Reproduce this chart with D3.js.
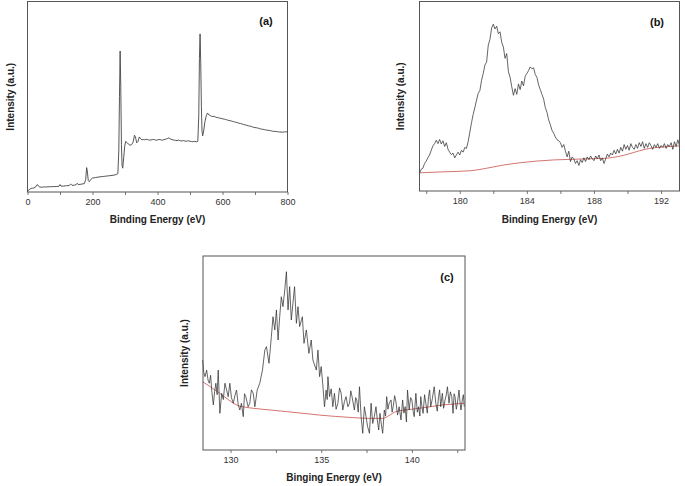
<!DOCTYPE html>
<html>
<head>
<meta charset="utf-8">
<script src="https://cdn.jsdelivr.net/npm/d3@7/dist/d3.min.js"></script>
<style>
  html, body { margin: 0; padding: 0; background: #fff; }
  svg { display: block; font-family: Arial, "Liberation Sans", sans-serif; }
</style>
</head>
<body>
<svg id="chart" width="685" height="486"></svg>
<script>
// ---------------- DATA ----------------
// Panel (a): survey spectrum [binding energy (eV), intensity (a.u.)]
const surveyA = [
  [0,0.5],[5,1.2],[10,1.8],[15,2.0],[20,2.1],[25,2.6],[28,3.6],[31,3.9],[34,3.0],[38,2.6],
  [45,2.5],[50,2.7],[55,2.6],[60,2.7],[70,2.8],[80,2.8],[90,2.9],[97,3.0],[100,3.9],[103,3.1],
  [110,3.1],[120,3.3],[128,3.4],[133,4.2],[137,3.5],[145,3.6],[150,3.9],[153,4.6],[156,3.9],[165,4.1],
  [175,4.4],[179,6.5],[182,12.8],[184,11.0],[187,6.0],[190,5.4],[195,6.6],[200,7.3],[210,7.6],[220,7.9],
  [230,8.1],[240,8.3],[250,8.5],[260,8.7],[270,9.0],[278,9.6],[281,22],[283,50],[285,74],[287,55],
  [289,25],[291,14],[293,12.5],[296,18],[299,24],[302,26.5],[306,26.0],[310,25.2],[315,24.6],[320,24.8],
  [325,26.2],[329,29.8],[332,29.0],[336,25.8],[340,26.5],[344,28.9],[348,28.0],[352,27.3],[356,27.6],[360,27.4],
  [365,27.7],[370,27.5],[375,27.2],[380,27.3],[385,27.6],[390,27.5],[395,27.2],[400,27.3],[405,27.6],[410,27.4],
  [415,27.2],[420,27.5],[425,27.7],[430,28.0],[435,28.4],[440,27.8],[445,27.5],[450,27.3],[455,27.1],[460,27.0],
  [465,27.2],[470,26.9],[475,26.8],[480,27.0],[485,26.7],[490,26.7],[495,26.9],[500,26.6],[505,26.5],[510,26.4],
  [515,26.6],[520,26.3],[524,26.6],[527,40],[529,70],[531,83],[533,68],[535,45],[537,32],[539,29.5],
  [542,32],[546,37],[550,40],[554,41.5],[558,40.5],[562,40.2],[565,39.8],[570,39.6],[575,39.7],[580,39.2],
  [585,39.1],[590,38.8],[595,38.7],[600,38.4],[605,38.3],[610,38.0],[615,37.8],[620,37.5],[625,37.4],[630,37.1],
  [635,36.9],[640,36.6],[645,36.5],[650,36.1],[655,36.0],[660,35.7],[665,35.4],[670,35.2],[675,35.0],[680,34.7],
  [685,34.6],[690,34.3],[695,34.0],[700,33.8],[705,33.7],[710,33.5],[715,33.2],[720,33.0],[725,32.9],[730,32.7],
  [735,32.5],[740,32.4],[745,32.3],[750,32.1],[755,31.9],[760,31.8],[765,31.8],[770,31.6],[775,31.5],[780,31.5],
  [785,31.4],[790,31.5],[795,31.6],[800,31.6]
];

// Panel (b): narrow scan [binding energy (eV), intensity (a.u.)]
const scanB = [
  [177.6,9.3],[177.7,11.5],[177.8,12.0],[177.9,14.5],[178.0,15.8],[178.1,17.5],[178.2,19.0],[178.3,21.5],[178.4,23.8],[178.5,25.0],
  [178.6,26.8],[178.7,25.0],[178.8,27.2],[178.9,24.8],[179.0,26.5],[179.1,23.5],[179.2,25.5],[179.3,22.0],[179.4,20.5],[179.5,19.2],
  [179.6,20.0],[179.7,17.5],[179.8,19.0],[179.9,20.5],[180.0,19.0],[180.1,21.5],[180.2,20.5],[180.3,23.0],[180.4,22.5],[180.5,26.0],
  [180.6,31.0],[180.7,36.0],[180.8,40.5],[180.9,44.0],[181.0,48.0],[181.1,51.5],[181.2,53.0],[181.3,58.5],[181.4,62.0],[181.5,66.5],
  [181.6,68.0],[181.7,77.0],[181.8,80.0],[181.9,86.0],[182.0,88.0],[182.1,85.5],[182.2,87.0],[182.3,83.0],[182.4,84.0],[182.5,78.5],
  [182.6,76.0],[182.7,70.0],[182.8,72.5],[182.9,63.0],[183.0,60.0],[183.1,55.0],[183.2,50.5],[183.3,54.0],[183.4,51.0],[183.5,56.5],
  [183.6,53.5],[183.7,58.0],[183.8,55.5],[183.9,60.5],[184.0,62.0],[184.1,63.5],[184.2,65.5],[184.3,64.5],[184.4,65.0],[184.5,61.5],
  [184.6,60.0],[184.7,56.0],[184.8,53.5],[184.9,51.0],[185.0,48.5],[185.1,44.0],[185.2,41.5],[185.3,37.5],[185.4,35.0],[185.5,32.0],
  [185.6,30.5],[185.7,28.5],[185.8,27.0],[185.9,26.5],[186.0,25.5],[186.1,23.0],[186.2,24.5],[186.3,21.0],[186.4,18.0],[186.5,21.0],
  [186.6,15.5],[186.7,18.0],[186.8,17.0],[186.9,14.5],[187.0,16.0],[187.1,13.5],[187.2,16.5],[187.3,15.0],[187.4,17.5],[187.5,15.5],
  [187.6,18.0],[187.7,16.5],[187.8,18.5],[187.9,17.0],[188.0,16.0],[188.1,18.5],[188.2,17.0],[188.3,19.0],[188.4,16.0],[188.5,17.5],
  [188.6,14.5],[188.7,17.0],[188.8,19.5],[188.9,18.0],[189.0,20.0],[189.1,19.0],[189.2,21.5],[189.3,19.5],[189.4,22.0],[189.5,20.0],
  [189.6,23.0],[189.7,21.0],[189.8,24.5],[189.9,22.0],[190.0,24.0],[190.1,21.5],[190.2,25.0],[190.3,23.0],[190.4,22.0],[190.5,24.5],
  [190.6,22.5],[190.7,25.5],[190.8,23.5],[190.9,26.0],[191.0,22.5],[191.1,25.0],[191.2,23.0],[191.3,25.5],[191.4,24.0],[191.5,22.0],
  [191.6,24.5],[191.7,23.0],[191.8,25.0],[191.9,22.5],[192.0,24.0],[192.1,23.0],[192.2,25.0],[192.3,22.5],[192.4,24.5],[192.5,23.5],
  [192.6,25.5],[192.7,22.0],[192.8,26.0],[192.9,23.5],[193.0,27.0],[193.1,24.0]
];
const baselineB = [
  [177.6,9.6],[179.0,10.1],[180.65,10.7],[181.6,12.0],[182.6,13.7],[183.6,14.9],[184.6,15.8],[185.6,16.4],
  [186.6,16.7],[187.6,17.0],[188.6,17.2],[189.2,17.8],[189.8,18.9],[190.4,20.4],[191.0,21.9],[191.6,22.8],[192.2,23.3],[193.1,23.8]
];

// Panel (c): narrow scan [binding energy (eV), intensity (a.u.)]
const scanC = [
  [128.46,46.4],[128.52,40.0],[128.59,37.8],[128.68,41.2],[128.76,36.0],[128.83,34.4],[128.90,38.5],[128.96,30.9],[129.05,23.2],[129.12,30.0],
  [129.19,34.4],[129.26,28.5],[129.32,41.2],[129.41,18.9],[129.51,29.2],[129.60,26.0],[129.69,34.4],[129.78,31.0],[129.87,27.5],[129.96,34.4],
  [130.05,27.0],[130.15,24.1],[130.24,28.0],[130.33,30.9],[130.42,23.5],[130.51,20.6],[130.60,24.1],[130.70,17.2],[130.77,29.0],[130.84,27.5],
  [130.97,22.3],[131.06,24.1],[131.15,31.0],[131.25,29.2],[131.34,22.3],[131.47,30.9],[131.61,34.4],[131.76,41.2],[131.89,51.5],[131.98,53.3],
  [132.12,44.7],[132.25,58.4],[132.34,68.7],[132.44,61.9],[132.53,72.2],[132.62,56.7],[132.71,68.7],[132.80,79.0],[132.89,73.9],[132.99,82.5],
  [133.08,91.9],[133.17,72.2],[133.26,84.2],[133.35,67.0],[133.44,75.6],[133.53,84.2],[133.63,65.3],[133.72,73.9],[133.81,63.6],[133.96,68.7],
  [134.05,55.0],[134.18,61.9],[134.32,49.8],[134.45,56.7],[134.54,46.4],[134.73,41.2],[134.82,51.5],[134.91,37.8],[135.00,43.0],[135.09,33.5],
  [135.18,22.3],[135.27,30.9],[135.33,26.0],[135.37,37.8],[135.46,27.5],[135.55,31.5],[135.64,22.3],[135.73,29.2],[135.82,21.0],[135.92,24.1],
  [136.01,32.0],[136.10,29.2],[136.19,20.6],[136.28,25.0],[136.37,27.5],[136.47,22.3],[136.56,24.1],[136.63,30.5],[136.70,27.5],[136.83,20.6],
  [136.90,27.0],[136.96,25.8],[137.04,19.5],[137.11,32.6],[137.20,17.2],[137.29,8.6],[137.38,22.3],[137.47,17.2],[137.56,12.0],[137.66,8.6],
  [137.75,24.1],[137.84,13.7],[137.93,17.2],[138.02,22.3],[138.10,15.0],[138.17,10.3],[138.24,18.9],[138.32,13.0],[138.39,8.6],[138.48,20.6],
  [138.55,17.5],[138.61,27.5],[138.68,21.0],[138.75,24.1],[138.85,25.8],[138.91,19.5],[138.97,22.3],[139.05,28.0],[139.12,24.9],[139.21,18.0],
  [139.30,22.3],[139.40,15.5],[139.49,25.8],[139.56,19.0],[139.63,22.3],[139.70,14.5],[139.76,30.9],[139.85,20.6],[139.93,27.0],[140.00,25.8],
  [140.07,20.0],[140.13,17.2],[140.22,29.2],[140.30,19.5],[140.37,22.3],[140.44,17.5],[140.49,27.5],[140.56,22.0],[140.62,18.9],[140.70,28.5],
  [140.77,24.1],[140.85,19.0],[140.92,27.5],[140.98,31.0],[141.04,22.3],[141.13,26.5],[141.23,32.6],[141.32,24.1],[141.40,20.0],[141.47,27.5],
  [141.53,31.0],[141.59,22.3],[141.68,29.2],[141.75,21.5],[141.83,25.8],[141.90,28.5],[141.96,32.6],[142.05,24.1],[142.12,30.0],[142.20,27.5],
  [142.27,18.9],[142.33,29.0],[142.38,27.5],[142.45,21.0],[142.51,24.1],[142.60,30.9],[142.66,24.0],[142.71,20.6],[142.78,25.8],[142.84,28.5],
  [142.89,22.3]
];
const baselineC = [
  [128.46,35.2],[128.9,32.5],[129.41,29.2],[129.9,25.8],[130.33,23.2],[130.8,22.1],[131.25,21.5],[132.2,20.6],[133.08,19.8],
  [134.0,18.9],[134.91,18.0],[135.8,17.3],[136.74,16.7],[137.66,16.3],[138.39,16.3],[138.75,17.8],[139.12,19.8],[139.8,20.8],
  [140.4,21.5],[141.0,22.3],[141.68,23.2],[142.3,23.7],[142.89,24.1]
];

// Tick values
const ticksA = [0, 200, 400, 600, 800];
const minorA = [100, 300, 500, 700];
const ticksB = [180, 184, 188, 192];
const minorB = [178, 182, 186, 190];
const ticksC = [130, 135, 140];
const minorC = [132.5, 137.5, 142.5];

// ---------------- DRAW ----------------
const svg = d3.select("#chart");

function drawPanel(cfg) {
  const x = d3.scaleLinear().domain(cfg.xDomain).range([cfg.left, cfg.right]);
  const y = d3.scaleLinear().domain([0, 100]).range([cfg.bottom, cfg.top]);
  const g = svg.append("g");

  // minor ticks
  g.append("g")
    .attr("transform", `translate(0,${cfg.bottom})`)
    .call(d3.axisBottom(x).tickValues(cfg.minor).tickSize(3).tickFormat(""))
    .call(a => a.select(".domain").remove())
    .call(a => a.selectAll("line").attr("stroke", "#555").attr("stroke-width", 0.8));

  // major ticks
  const ax = g.append("g")
    .attr("transform", `translate(0,${cfg.bottom})`)
    .call(d3.axisBottom(x).tickValues(cfg.ticks).tickSize(3).tickPadding(4).tickFormat(d3.format("d")));
  ax.select(".domain").remove();
  ax.selectAll("line").attr("stroke", "#555").attr("stroke-width", 0.8);
  ax.selectAll("text").attr("font-size", 9).attr("fill", "#333")
    .attr("font-family", "Arial, 'Liberation Sans', sans-serif");

  // baseline
  if (cfg.baseline) {
    g.append("path")
      .datum(cfg.baseline)
      .attr("fill", "none")
      .attr("stroke", "#c9504c")
      .attr("stroke-width", 0.8)
      .attr("d", d3.line().curve(d3.curveMonotoneX).x(d => x(d[0])).y(d => y(d[1])));
  }

  // spectrum
  g.append("path")
    .datum(cfg.data)
    .attr("fill", "none")
    .attr("stroke", cfg.color)
    .attr("stroke-width", cfg.width)
    .attr("stroke-linejoin", "round")
    .attr("d", d3.line().x(d => x(d[0])).y(d => y(d[1])));

  // frame
  g.append("rect")
    .attr("x", cfg.left).attr("y", cfg.top)
    .attr("width", cfg.right - cfg.left).attr("height", cfg.bottom - cfg.top)
    .attr("fill", "none").attr("stroke", "#555").attr("stroke-width", 1);

  // x title
  g.append("text")
    .attr("x", (cfg.left + cfg.right) / 2).attr("y", cfg.xTitleY)
    .attr("text-anchor", "middle").attr("font-size", 10).attr("font-weight", "bold")
    .attr("fill", "#222").text(cfg.xTitle);

  // y title
  g.append("text")
    .attr("transform", `translate(${cfg.yTitleX},${(cfg.top + cfg.bottom) / 2}) rotate(-90)`)
    .attr("text-anchor", "middle").attr("dominant-baseline", "central")
    .attr("font-size", 10).attr("font-weight", "bold")
    .attr("fill", "#222").text("Intensity (a.u.)");

  // panel label
  g.append("text")
    .attr("x", cfg.labelX).attr("y", cfg.labelY)
    .attr("text-anchor", "middle").attr("font-size", 11).attr("font-weight", "bold")
    .attr("fill", "#111").text(cfg.label);
}

drawPanel({
  data: surveyA, ticks: ticksA, minor: minorA, xDomain: [0, 800],
  left: 27.5, right: 287.5, top: 1.5, bottom: 192,
  color: "#444", width: 0.9,
  xTitle: "Binding Energy (eV)", xTitleY: 223, yTitleX: 10,
  label: "(a)", labelX: 266, labelY: 25
});

drawPanel({
  data: scanB, baseline: baselineB, ticks: ticksB, minor: minorB, xDomain: [177.6, 193.1],
  left: 419.5, right: 679.5, top: 1.5, bottom: 191,
  color: "#333", width: 0.75,
  xTitle: "Binding Energy (eV)", xTitleY: 223, yTitleX: 400,
  label: "(b)", labelX: 657, labelY: 26
});

drawPanel({
  data: scanC, baseline: baselineC, ticks: ticksC, minor: minorC, xDomain: [128.48, 142.93],
  left: 203, right: 465, top: 256, bottom: 450,
  color: "#333", width: 0.75,
  xTitle: "Binging Energy (eV)", xTitleY: 481, yTitleX: 184,
  label: "(c)", labelX: 447, labelY: 281
});
</script>
</body>
</html>
